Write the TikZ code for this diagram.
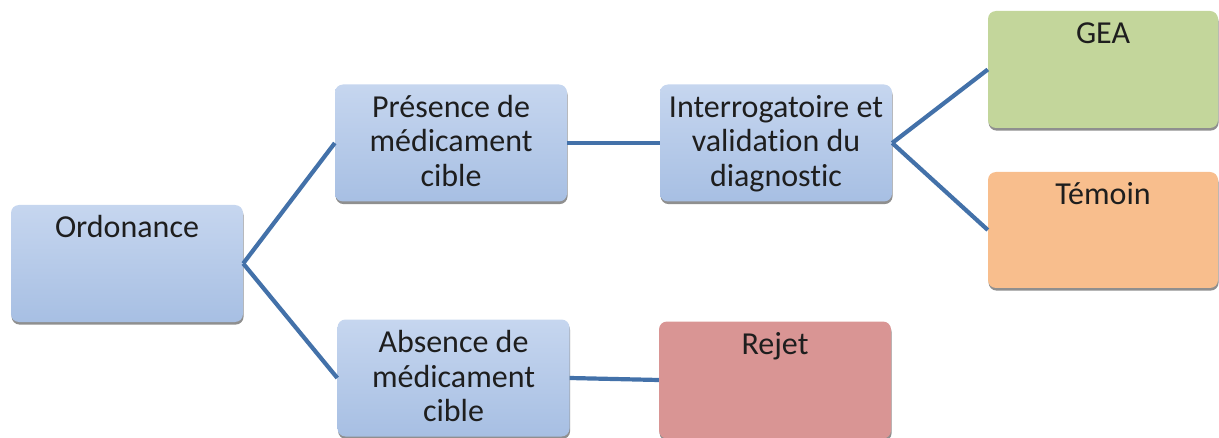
\documentclass[tikz,border=0pt]{standalone}
\usepackage{fontspec}
\setmainfont{Carlito}[Ligatures=NoCommon]
\usetikzlibrary{shadows}
\definecolor{bluetop}{HTML}{C6D6EF}
\definecolor{bluebot}{HTML}{A7BFE3}
\definecolor{geacol}{HTML}{C3D69B}
\definecolor{temcol}{HTML}{F8BE8D}
\definecolor{rejcol}{HTML}{D99594}
\definecolor{linecol}{HTML}{4371A9}
\definecolor{txtcol}{HTML}{1E1E1E}
\tikzset{
  box/.style={rounded corners=8pt, minimum width=232pt, minimum height=117pt,
    inner sep=0pt, draw=none,
    drop shadow={shadow xshift=0.6pt, shadow yshift=-2.6pt, fill=black!55, opacity=0.8}},
  bluebox/.style={box, top color=bluetop, bottom color=bluebot},
  lbl/.style={anchor=north, yshift=-8pt, inner sep=0pt, align=center, text=txtcol,
    font=\fontsize{32}{34.5}\selectfont},
  conn/.style={draw=linecol, line width=4.2pt}
}
\newcommand{\fl}{\rule{0pt}{25pt}}
\begin{document}
\begin{tikzpicture}[x=1pt,y=1pt]
\useasboundingbox (0,0) rectangle (1219,437);
\node[bluebox, label={[lbl]north:{\fl Ordonance}}] (ord) at (127,173.5) {};
\node[bluebox, label={[lbl]north:{\fl Présence de\\médicament\\cible}}] (pres) at (451,294) {};
\node[bluebox, label={[lbl]north:{\fl Interrogatoire et\\validation du\\diagnostic}}] (inter) at (776,294) {};
\node[bluebox, label={[lbl]north:{\fl Absence de\\médicament\\cible}}] (abs) at (453.5,59) {};
\node[box, fill=rejcol, label={[lbl]north:{\fl Rejet}}] (rej) at (775,57) {};
\node[box, fill=geacol, minimum width=230pt, label={[lbl]north:{\fl GEA}}] (gea) at (1103,367.5) {};
\node[box, fill=temcol, minimum width=230pt, minimum height=116pt, label={[lbl]north:{\fl Témoin}}] (tem) at (1103,207) {};
\draw[conn] (ord.east) -- (pres.west);
\draw[conn] (ord.east) -- (abs.west);
\draw[conn] (pres.east) -- (inter.west);
\draw[conn] (abs.east) -- (rej.west);
\draw[conn] (inter.east) -- (gea.west);
\draw[conn] (inter.east) -- (tem.west);
\end{tikzpicture}
\end{document}
